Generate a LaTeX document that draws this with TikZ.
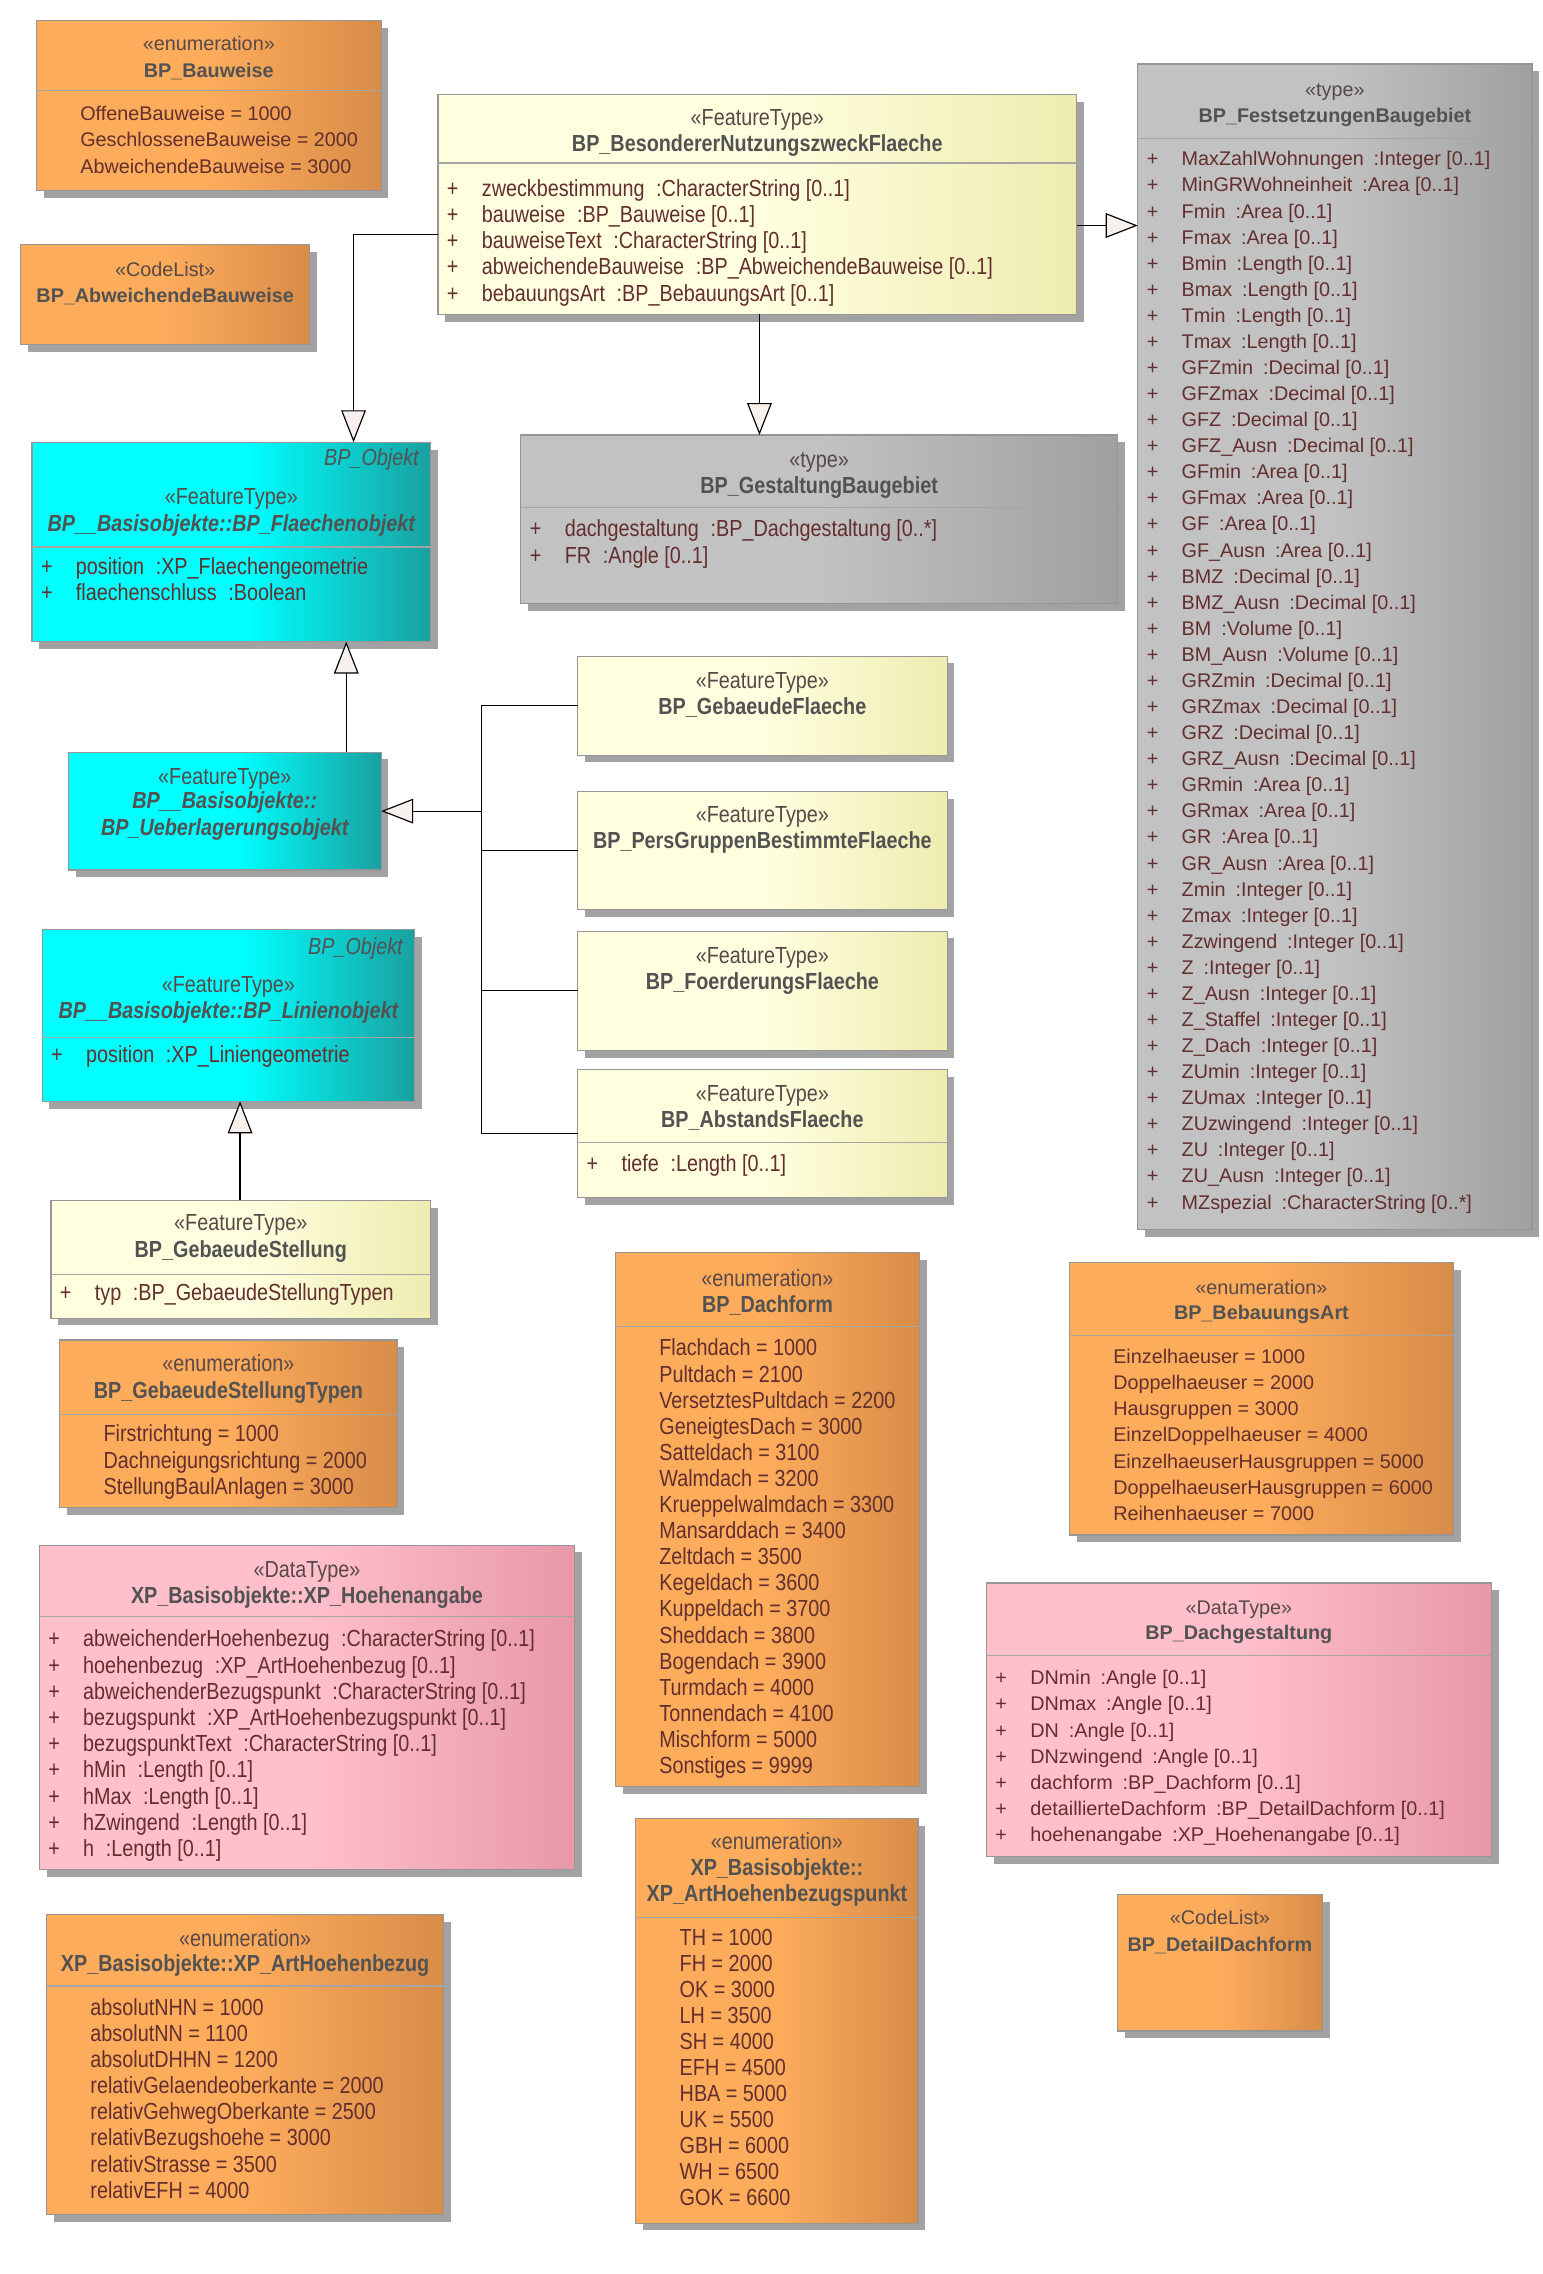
\documentclass[tikz,border=0pt]{standalone}
\usepackage{fontspec}
\setmainfont{Liberation Sans}
\newfontfamily\narrowfont[FakeStretch=0.85]{Liberation Sans}
\usetikzlibrary{shadows,arrows.meta}

\definecolor{oL}{RGB}{253,172,92}
\definecolor{oR}{RGB}{216,140,72}
\definecolor{yL}{RGB}{255,255,224}
\definecolor{yR}{RGB}{238,236,176}
\definecolor{cL}{RGB}{0,255,255}
\definecolor{cR}{RGB}{26,160,160}
\definecolor{gL}{RGB}{194,194,194}
\definecolor{gR}{RGB}{160,160,160}
\definecolor{pL}{RGB}{255,192,203}
\definecolor{pR}{RGB}{232,152,168}
\definecolor{bordergray}{RGB}{150,150,150}
\definecolor{sepgray}{RGB}{165,165,165}
\definecolor{shadowgray}{RGB}{162,162,162}
\definecolor{tster}{RGB}{88,72,72}
\definecolor{tname}{RGB}{82,82,82}
\definecolor{tattr}{RGB}{98,46,46}
\definecolor{arrowfill}{RGB}{248,240,236}

\pgfdeclarehorizontalshading{shOrange}{100bp}{color(0bp)=(oL); color(50bp)=(oL); color(75bp)=(oR); color(100bp)=(oR)}
\pgfdeclarehorizontalshading{shYellow}{100bp}{color(0bp)=(yL); color(50bp)=(yL); color(75bp)=(yR); color(100bp)=(yR)}
\pgfdeclarehorizontalshading{shCyan}{100bp}{color(0bp)=(cL); color(52bp)=(cL); color(75bp)=(cR); color(100bp)=(cR)}
\pgfdeclarehorizontalshading{shGray}{100bp}{color(0bp)=(gL); color(50bp)=(gL); color(75bp)=(gR); color(100bp)=(gR)}
\pgfdeclarehorizontalshading{shPink}{100bp}{color(0bp)=(pL); color(50bp)=(pL); color(75bp)=(pR); color(100bp)=(pR)}

\newcommand\fnt{}
\newcommand\NARROW{\def\fnt{\narrowfont\fontsize{16}{18}\selectfont}}
\newcommand\WIDE{\def\fnt{\fontsize{13.6}{18}\selectfont}}
\newcommand\gap{\hspace{0.5em}}

\tikzset{
  umlbox/.style={anchor=north west, inner sep=0pt, outer sep=0pt, draw=bordergray, line width=0.8pt, shade,
    drop shadow={shadow xshift=5pt, shadow yshift=-5pt, fill=shadowgray, opacity=1, draw=none}},
  fOrange/.style={shading=shOrange},
  fYellow/.style={shading=shYellow},
  fCyan/.style={shading=shCyan},
  fGray/.style={shading=shGray},
  fPink/.style={shading=shPink},
  ster/.style={anchor=base, yshift=-5pt, inner sep=0pt, text=tster, font=\fnt},
  cname/.style={anchor=base, yshift=-5pt, inner sep=0pt, text=tname, font=\fnt\bfseries},
  cnameit/.style={anchor=base, yshift=-5pt, inner sep=0pt, text=tname, font=\fnt\bfseries\itshape},
  objlabel/.style={anchor=base east, yshift=-5pt, xshift=-8pt, inner sep=0pt, text=tname, font=\fnt\itshape},
  attr/.style={anchor=base west, yshift=-5pt, inner sep=0pt, text=tattr, font=\fnt},
  sepl/.style={draw=sepgray, line width=0.8pt},
  conn/.style={draw=black, line width=0.8pt},
  gen/.style={draw=black, line width=0.8pt, -{Triangle[length=22pt,width=17pt,fill=arrowfill]}},
}

\newcommand\umlbox[6]{%
  \pgfmathsetmacro\bw{#5-#3}\pgfmathsetmacro\bh{#6-#4}%
  \node[umlbox,#2,minimum width=\bw pt,minimum height=\bh pt] (#1) at (#3,#4) {};}
\newcommand\ster[3]{\node[ster] (#1-s) at (#1.north |- 0,#2) {#3};}
\newcommand\cname[3]{\node[cname] (#1-n) at (#1.north |- 0,#2) {#3};}
\newcommand\cnameit[4]{\node[cnameit] (#1-#4) at (#1.north |- 0,#2) {#3};}
\newcommand\sep[2]{\draw[sepl] (#1.west |- 0,#2) -- (#1.east |- 0,#2);}
\newcommand\items[4]{\foreach \a [count=\i from 0] in {#4}{%
  \pgfmathsetmacro\yy{#2+\i*#3}%
  \node[attr,xshift=30pt] (#1-i\i) at (#1.west |- 0,\yy) {\a};}}
\newcommand\attrs[4]{\foreach \a [count=\i from 0] in {#4}{%
  \pgfmathsetmacro\yy{#2+\i*#3}%
  \node[attr,xshift=6pt] (#1-p\i) at (#1.west |- 0,\yy) {+};
  \node[attr,xshift=30pt] (#1-a\i) at (#1.west |- 0,\yy) {\a};}}

\begin{document}
\begin{tikzpicture}[x=1pt,y=-1pt]
\fill[white] (0,0) rectangle (1060,1563);
\useasboundingbox (0,0) rectangle (1060,1563);

% ---------- BP_Bauweise
\WIDE
\umlbox{bauweise}{fOrange}{25}{14}{262}{131}
\ster{bauweise}{30}{«enumeration»}
\cname{bauweise}{48}{BP\_Bauweise}
\sep{bauweise}{62}
\items{bauweise}{78}{18}{{OffeneBauweise = 1000},{GeschlosseneBauweise = 2000},{AbweichendeBauweise = 3000}}

% ---------- BP_AbweichendeBauweise
\umlbox{abweichend}{fOrange}{14}{168}{213}{237}
\ster{abweichend}{185}{«CodeList»}
\cname{abweichend}{203}{BP\_AbweichendeBauweise}

% ---------- BP_BesondererNutzungszweckFlaeche
\NARROW
\umlbox{besonderer}{fYellow}{301}{65}{740}{216}
\ster{besonderer}{81}{«FeatureType»}
\cname{besonderer}{99}{BP\_BesondererNutzungszweckFlaeche}
\sep{besonderer}{112}
\attrs{besonderer}{130}{18}{{zweckbestimmung\gap:CharacterString [0..1]},{bauweise\gap:BP\_Bauweise [0..1]},{bauweiseText\gap:CharacterString [0..1]},{abweichendeBauweise\gap:BP\_AbweichendeBauweise [0..1]},{bebauungsArt\gap:BP\_BebauungsArt [0..1]}}

% ---------- BP_FestsetzungenBaugebiet
\WIDE
\umlbox{festsetz}{fGray}{782}{44}{1053}{845}
\ster{festsetz}{61}{«type»}
\cname{festsetz}{79}{BP\_FestsetzungenBaugebiet}
\sep{festsetz}{95}
\attrs{festsetz}{109}{17.925}{{MaxZahlWohnungen\gap:Integer [0..1]},{MinGRWohneinheit\gap:Area [0..1]},{Fmin\gap:Area [0..1]},{Fmax\gap:Area [0..1]},{Bmin\gap:Length [0..1]},{Bmax\gap:Length [0..1]},{Tmin\gap:Length [0..1]},{Tmax\gap:Length [0..1]},{GFZmin\gap:Decimal [0..1]},{GFZmax\gap:Decimal [0..1]},{GFZ\gap:Decimal [0..1]},{GFZ\_Ausn\gap:Decimal [0..1]},{GFmin\gap:Area [0..1]},{GFmax\gap:Area [0..1]},{GF\gap:Area [0..1]},{GF\_Ausn\gap:Area [0..1]},{BMZ\gap:Decimal [0..1]},{BMZ\_Ausn\gap:Decimal [0..1]},{BM\gap:Volume [0..1]},{BM\_Ausn\gap:Volume [0..1]},{GRZmin\gap:Decimal [0..1]},{GRZmax\gap:Decimal [0..1]},{GRZ\gap:Decimal [0..1]},{GRZ\_Ausn\gap:Decimal [0..1]},{GRmin\gap:Area [0..1]},{GRmax\gap:Area [0..1]},{GR\gap:Area [0..1]},{GR\_Ausn\gap:Area [0..1]},{Zmin\gap:Integer [0..1]},{Zmax\gap:Integer [0..1]},{Zzwingend\gap:Integer [0..1]},{Z\gap:Integer [0..1]},{Z\_Ausn\gap:Integer [0..1]},{Z\_Staffel\gap:Integer [0..1]},{Z\_Dach\gap:Integer [0..1]},{ZUmin\gap:Integer [0..1]},{ZUmax\gap:Integer [0..1]},{ZUzwingend\gap:Integer [0..1]},{ZU\gap:Integer [0..1]},{ZU\_Ausn\gap:Integer [0..1]},{MZspezial\gap:CharacterString [0..*]}}

% ---------- BP_GestaltungBaugebiet
\NARROW
\umlbox{gestaltung}{fGray}{358}{299}{768}{415}
\ster{gestaltung}{316}{«type»}
\cname{gestaltung}{334}{BP\_GestaltungBaugebiet}
\sep{gestaltung}{349}
\attrs{gestaltung}{364}{18}{{dachgestaltung\gap:BP\_Dachgestaltung [0..*]},{FR\gap:Angle [0..1]}}

% ---------- BP_Flaechenobjekt
\umlbox{flaeche}{fCyan}{22}{304}{296}{441}
\node[objlabel] (flaeche-o) at (flaeche.east |- 0,315) {BP\_Objekt};
\ster{flaeche}{342}{«FeatureType»}
\cnameit{flaeche}{360}{BP\_\_Basisobjekte::BP\_Flaechenobjekt}{n}
\sep{flaeche}{376}
\attrs{flaeche}{390}{18}{{position\gap:XP\_Flaechengeometrie},{flaechenschluss\gap:Boolean}}

% ---------- BP_Ueberlagerungsobjekt
\umlbox{ueber}{fCyan}{47}{517}{262}{598}
\ster{ueber}{534}{«FeatureType»}
\cnameit{ueber}{551}{BP\_\_Basisobjekte::}{n1}
\cnameit{ueber}{569}{BP\_Ueberlagerungsobjekt}{n2}

% ---------- BP_Linienobjekt
\umlbox{linien}{fCyan}{29}{639}{285}{757}
\node[objlabel] (linien-o) at (linien.east |- 0,651) {BP\_Objekt};
\ster{linien}{677}{«FeatureType»}
\cnameit{linien}{695}{BP\_\_Basisobjekte::BP\_Linienobjekt}{n}
\sep{linien}{713}
\attrs{linien}{725}{18}{{position\gap:XP\_Liniengeometrie}}

% ---------- BP_GebaeudeStellung
\umlbox{stellung}{fYellow}{35}{825}{296}{906}
\ster{stellung}{841}{«FeatureType»}
\cname{stellung}{859}{BP\_GebaeudeStellung}
\sep{stellung}{876}
\attrs{stellung}{889}{18}{{typ\gap:BP\_GebaeudeStellungTypen}}

% ---------- right feature types
\umlbox{gflaeche}{fYellow}{397}{451}{651}{519}
\ster{gflaeche}{468}{«FeatureType»}
\cname{gflaeche}{486}{BP\_GebaeudeFlaeche}

\umlbox{pers}{fYellow}{397}{544}{651}{625}
\ster{pers}{560}{«FeatureType»}
\cname{pers}{578}{BP\_PersGruppenBestimmteFlaeche}

\umlbox{foerder}{fYellow}{397}{640}{651}{722}
\ster{foerder}{657}{«FeatureType»}
\cname{foerder}{675}{BP\_FoerderungsFlaeche}

\umlbox{abstand}{fYellow}{397}{735}{651}{823}
\ster{abstand}{752}{«FeatureType»}
\cname{abstand}{770}{BP\_AbstandsFlaeche}
\sep{abstand}{785}
\attrs{abstand}{800}{18}{{tiefe\gap:Length [0..1]}}

% ---------- BP_GebaeudeStellungTypen
\umlbox{stelltyp}{fOrange}{41}{921}{273}{1036}
\ster{stelltyp}{938}{«enumeration»}
\cname{stelltyp}{956}{BP\_GebaeudeStellungTypen}
\sep{stelltyp}{972}
\items{stelltyp}{986}{18}{{Firstrichtung = 1000},{Dachneigungsrichtung = 2000},{StellungBaulAnlagen = 3000}}

% ---------- BP_Dachform
\umlbox{dachform}{fOrange}{423}{861}{632}{1228}
\ster{dachform}{879}{«enumeration»}
\cname{dachform}{897}{BP\_Dachform}
\sep{dachform}{912}
\items{dachform}{927}{17.94}{{Flachdach = 1000},{Pultdach = 2100},{VersetztesPultdach = 2200},{GeneigtesDach = 3000},{Satteldach = 3100},{Walmdach = 3200},{Krueppelwalmdach = 3300},{Mansarddach = 3400},{Zeltdach = 3500},{Kegeldach = 3600},{Kuppeldach = 3700},{Sheddach = 3800},{Bogendach = 3900},{Turmdach = 4000},{Tonnendach = 4100},{Mischform = 5000},{Sonstiges = 9999}}

% ---------- BP_BebauungsArt
\WIDE
\umlbox{bebauung}{fOrange}{735}{868}{999}{1055}
\ster{bebauung}{885}{«enumeration»}
\cname{bebauung}{902}{BP\_BebauungsArt}
\sep{bebauung}{918}
\items{bebauung}{932}{18}{{Einzelhaeuser = 1000},{Doppelhaeuser = 2000},{Hausgruppen = 3000},{EinzelDoppelhaeuser = 4000},{EinzelhaeuserHausgruppen = 5000},{DoppelhaeuserHausgruppen = 6000},{Reihenhaeuser = 7000}}

% ---------- XP_Hoehenangabe
\NARROW
\umlbox{hoehe}{fPink}{27}{1062}{395}{1285}
\ster{hoehe}{1079}{«DataType»}
\cname{hoehe}{1097}{XP\_Basisobjekte::XP\_Hoehenangabe}
\sep{hoehe}{1111}
\attrs{hoehe}{1127}{18}{{abweichenderHoehenbezug\gap:CharacterString [0..1]},{hoehenbezug\gap:XP\_ArtHoehenbezug [0..1]},{abweichenderBezugspunkt\gap:CharacterString [0..1]},{bezugspunkt\gap:XP\_ArtHoehenbezugspunkt [0..1]},{bezugspunktText\gap:CharacterString [0..1]},{hMin\gap:Length [0..1]},{hMax\gap:Length [0..1]},{hZwingend\gap:Length [0..1]},{h\gap:Length [0..1]}}

% ---------- BP_Dachgestaltung
\WIDE
\umlbox{dachgest}{fPink}{678}{1088}{1025}{1276}
\ster{dachgest}{1105}{«DataType»}
\cname{dachgest}{1122}{BP\_Dachgestaltung}
\sep{dachgest}{1138}
\attrs{dachgest}{1153}{18}{{DNmin\gap:Angle [0..1]},{DNmax\gap:Angle [0..1]},{DN\gap:Angle [0..1]},{DNzwingend\gap:Angle [0..1]},{dachform\gap:BP\_Dachform [0..1]},{detaillierteDachform\gap:BP\_DetailDachform [0..1]},{hoehenangabe\gap:XP\_Hoehenangabe [0..1]}}

% ---------- XP_ArtHoehenbezugspunkt
\NARROW
\umlbox{punkt}{fOrange}{437}{1250}{631}{1528}
\ster{punkt}{1266}{«enumeration»}
\node[cname] (punkt-n1) at (punkt.north |- 0,1284) {XP\_Basisobjekte::};
\node[cname] (punkt-n2) at (punkt.north |- 0,1302) {XP\_ArtHoehenbezugspunkt};
\sep{punkt}{1318}
\items{punkt}{1332}{17.9}{{TH = 1000},{FH = 2000},{OK = 3000},{LH = 3500},{SH = 4000},{EFH = 4500},{HBA = 5000},{UK = 5500},{GBH = 6000},{WH = 6500},{GOK = 6600}}

% ---------- BP_DetailDachform
\WIDE
\umlbox{detail}{fOrange}{768}{1302}{909}{1396}
\ster{detail}{1318}{«CodeList»}
\cname{detail}{1336}{BP\_DetailDachform}

% ---------- XP_ArtHoehenbezug
\NARROW
\umlbox{bezug}{fOrange}{32}{1316}{305}{1522}
\ster{bezug}{1333}{«enumeration»}
\cname{bezug}{1350}{XP\_Basisobjekte::XP\_ArtHoehenbezug}
\sep{bezug}{1365}
\items{bezug}{1380}{18}{{absolutNHN = 1000},{absolutNN = 1100},{absolutDHHN = 1200},{relativGelaendeoberkante = 2000},{relativGehwegOberkante = 2500},{relativBezugshoehe = 3000},{relativStrasse = 3500},{relativEFH = 4000}}

% ---------- connectors
\draw[gen] (besonderer.west |- 0,161) -| (flaeche.north -| 243,0);
\draw[gen] (besonderer.south -| 522,0) -- (gestaltung.north -| 522,0);
\draw[gen] (besonderer.east |- 0,155) -- (festsetz.west |- 0,155);
\draw[gen] (ueber.north -| 238,0) -- (flaeche.south -| 238,0);
\coordinate (junc) at (ueber.east -| 331,0);
\draw[conn] (gflaeche.west) -| (junc);
\draw[conn] (pers.west) -| (junc);
\draw[conn] (foerder.west) -| (junc);
\draw[conn] (abstand.west) -| (junc);
\draw[gen] (junc) -- (ueber.east);
\draw[gen] (stellung.north -| 165,0) -- (linien.south -| 165,0);
\end{tikzpicture}
\end{document}
